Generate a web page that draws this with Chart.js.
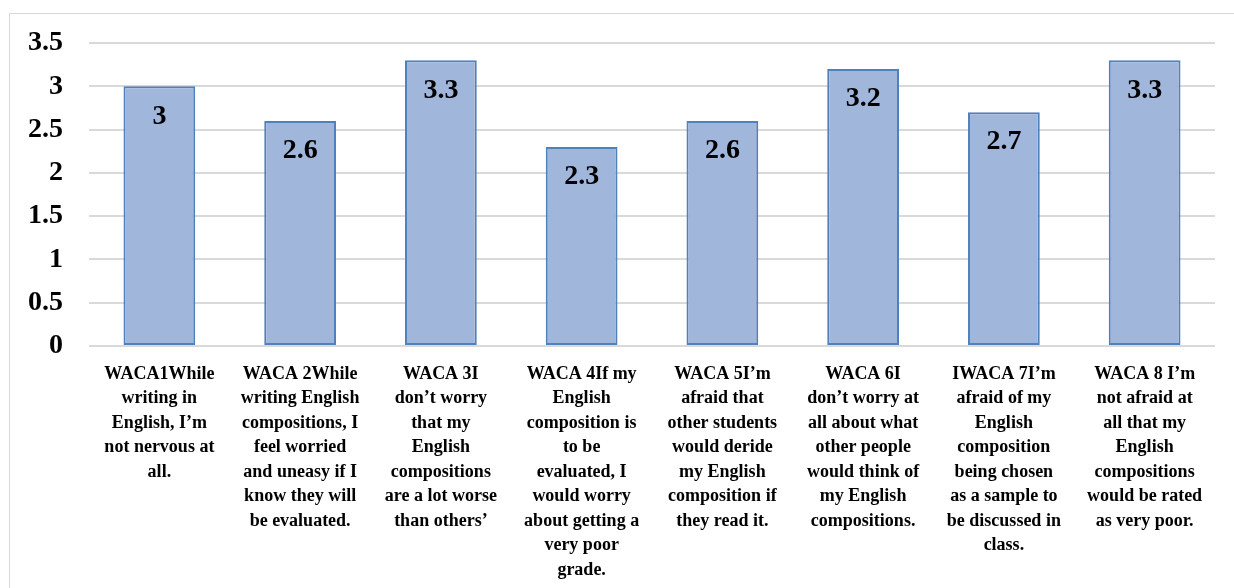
<!DOCTYPE html>
<html>
<head>
<meta charset="utf-8">
<script src="https://cdn.jsdelivr.net/npm/chart.js@4.4.1/dist/chart.umd.min.js"></script>
<style>
  html, body { margin: 0; padding: 0; background: #fff; }
  #wrap { position: relative; width: 1234px; height: 588px; overflow: hidden; }
  #frame { position: absolute; left: 9px; top: 13px; width: 1240px; height: 600px; border: 1.5px solid #d9d9d9; box-sizing: border-box; }
  #chart { position: absolute; left: 0; top: 0; }
</style>
</head>
<body>
<div id="wrap">
  <div id="frame"></div>
  <canvas id="chart" width="1234" height="588"></canvas>
</div>
<script>
const categories = [
  ['WACA1While', 'writing in', 'English, I\u2019m', 'not nervous at', 'all.'],
  ['WACA 2While', 'writing English', 'compositions, I', 'feel worried', 'and uneasy if I', 'know they will', 'be evaluated.'],
  ['WACA 3I', 'don\u2019t worry', 'that my', 'English', 'compositions', 'are a lot worse', 'than others\u2019'],
  ['WACA 4If my', 'English', 'composition is', 'to be', 'evaluated, I', 'would worry', 'about getting a', 'very poor', 'grade.'],
  ['WACA 5I\u2019m', 'afraid that', 'other students', 'would deride', 'my English', 'composition if', 'they read it.'],
  ['WACA 6I', 'don\u2019t worry at', 'all about what', 'other people', 'would think of', 'my English', 'compositions.'],
  ['IWACA 7I\u2019m', 'afraid of my', 'English', 'composition', 'being chosen', 'as a sample to', 'be discussed in', 'class.'],
  ['WACA 8 I\u2019m', 'not afraid at', 'all that my', 'English', 'compositions', 'would be rated', 'as very poor.']
];
const scores = [3, 2.6, 3.3, 2.3, 2.6, 3.2, 2.7, 3.3];
const yTicks = [0, 0.5, 1, 1.5, 2, 2.5, 3, 3.5];

const serif = "'Liberation Serif', 'Times New Roman', serif";

// per-bar vertical gradient, lighter at the top
function barFill(ctx) {
  const el = ctx.element;
  const chart = ctx.chart;
  if (!el || !chart.chartArea || el.y === undefined || isNaN(el.y)) return '#a1b6db';
  const g = chart.ctx.createLinearGradient(0, el.y, 0, el.base);
  g.addColorStop(0, '#b3c4e2');
  g.addColorStop(1, '#8ea8d5');
  return g;
}

// value labels drawn inside each bar near its top
const valueLabels = {
  id: 'valueLabels',
  afterDatasetsDraw(chart) {
    const { ctx } = chart;
    const meta = chart.getDatasetMeta(0);
    ctx.save();
    ctx.font = 'bold 28px ' + serif;
    ctx.fillStyle = '#000';
    ctx.textAlign = 'center';
    ctx.textBaseline = 'middle';
    meta.data.forEach((bar, i) => {
      ctx.fillText(String(scores[i]), bar.x, bar.y + 30);
    });
    ctx.restore();
  }
};

new Chart(document.getElementById('chart'), {
  type: 'bar',
  data: {
    labels: categories,
    datasets: [{
      data: scores,
      backgroundColor: barFill,
      borderColor: '#4f81bd',
      borderWidth: 2,
      borderSkipped: false,
      barPercentage: 0.51,
      categoryPercentage: 1
    }]
  },
  options: {
    responsive: false,
    animation: false,
    devicePixelRatio: 1,
    layout: { padding: { top: 43, right: 19, bottom: 0, left: 0 } },
    plugins: {
      legend: { display: false },
      tooltip: { enabled: false }
    },
    scales: {
      x: {
        grid: { display: false },
        border: { display: false },
        ticks: {
          color: '#000',
          font: { family: serif, weight: 'bold', size: 18, lineHeight: 1.36 },
          padding: 8,
          maxRotation: 0,
          minRotation: 0,
          autoSkip: false
        },
        afterFit(scale) { scale.height = 242; }
      },
      y: {
        min: 0,
        max: 3.5,
        afterBuildTicks(scale) { scale.ticks = yTicks.map(v => ({ value: v })); },
        grid: { color: '#d9d9d9', lineWidth: 2, drawTicks: false },
        border: { display: false },
        ticks: {
          color: '#000',
          font: { family: serif, weight: 'bold', size: 28 },
          padding: 26,
          callback: v => String(v)
        },
        afterFit(scale) { scale.width = 89; }
      }
    }
  },
  plugins: [valueLabels]
});
</script>
</body>
</html>
